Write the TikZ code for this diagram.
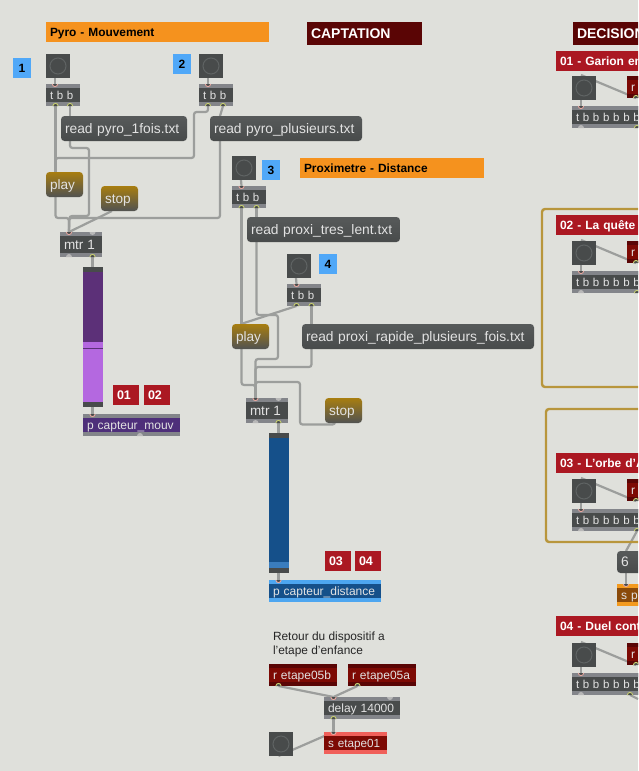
\documentclass[tikz,border=0pt]{standalone}
\usepackage{fontspec}
\setmainfont{Liberation Sans}
\definecolor{pagebg}{HTML}{DFE0DB}
\definecolor{objdark}{HTML}{484B4B}
\definecolor{stripgray}{HTML}{83858A}
\definecolor{wiregray}{HTML}{9C9E9C}
\definecolor{labelred}{HTML}{AB1822}
\definecolor{darkred}{HTML}{5A0505}
\definecolor{recvred}{HTML}{7D0A04}
\definecolor{sendstrip}{HTML}{F0605A}
\definecolor{orangelab}{HTML}{F5921E}
\definecolor{bluelab}{HTML}{50A8F8}
\definecolor{purpledark}{HTML}{5C3078}
\definecolor{purplelight}{HTML}{B468E0}
\definecolor{purplepatch}{HTML}{4E2F7A}
\definecolor{bluedark}{HTML}{15508A}
\definecolor{bluelight}{HTML}{3A7DBE}
\definecolor{bluestrip}{HTML}{4DA6F0}
\definecolor{gold}{HTML}{B8963C}
\definecolor{sorange}{HTML}{8A4A0A}
\definecolor{sorangestrip}{HTML}{F39A1E}
\definecolor{objtext}{HTML}{E2E2E2}
\definecolor{msgtop}{HTML}{575A5A}
\definecolor{ctltop}{HTML}{A87E10}
\definecolor{ctlbot}{HTML}{505252}
\definecolor{inpin}{HTML}{E8A8A0}
\definecolor{outpin}{HTML}{C8D070}
\definecolor{ringgray}{HTML}{5F6363}
\pgfdeclarelayer{wirelayer}
\pgfdeclarelayer{backlayer}
\pgfsetlayers{backlayer,wirelayer,main}
\newcommand\FS[2]{\fontsize{#1}{#2}\selectfont}
\newcommand\WS[1]{{\spaceskip=3.7pt\relax #1}}
\tikzset{
  base/.style={anchor=north west,inner xsep=4pt,inner ysep=0pt,outer sep=0pt,align=left,text height=10.5pt,text depth=1.5pt},
  strips/.style={path picture={
    \fill[#1] (path picture bounding box.north west) rectangle ([yshift=-4pt]path picture bounding box.north east);
    \fill[#1] (path picture bounding box.south west) rectangle ([yshift=4pt]path picture bounding box.south east);}},
  objbox/.style={base,fill=objdark,text=objtext,strips=stripgray,font=\FS{12}{14}},
  tbox/.style={objbox,font=\FS{11.5}{14}},
  patchm/.style={base,fill=purplepatch,text=objtext,strips=stripgray,font=\FS{12}{14}},
  patchd/.style={base,fill=bluedark,text=objtext,strips=bluestrip,font=\FS{12}{14}},
  recv/.style={base,fill=recvred,text=objtext,strips=darkred,font=\FS{12}{14}},
  sendb/.style={base,fill=recvred,text=objtext,strips=sendstrip,font=\FS{11.7}{14}},
  sendo/.style={base,fill=sorange,text=objtext,strips=sorangestrip,font=\FS{12}{14}},
  msg/.style={base,rounded corners=3.5pt,top color=msgtop,bottom color=objdark,text=objtext,font=\FS{13.8}{15}},
  ctl/.style={base,rounded corners=3.5pt,top color=ctltop,bottom color=ctlbot,text=objtext,font=\FS{13.6}{15}},
  orangeh/.style={base,fill=orangelab,text=black,font=\bfseries\FS{11.9}{13}},
  darkh/.style={base,fill=darkred,text=white,font=\bfseries\FS{14}{15}},
  redh/.style={base,fill=labelred,text=white,font=\bfseries\FS{12}{14}},
  redn/.style={base,fill=labelred,text=white,font=\bfseries\FS{12.5}{14}},
  bluen/.style={anchor=north west,fill=bluelab,text=black,inner sep=0pt,outer sep=0pt,align=center,text height=10.5pt,text depth=1.5pt,font=\bfseries\FS{12}{14}},
  btn/.style={anchor=north west,fill=objdark,inner sep=0pt,outer sep=0pt,minimum size=24pt,path picture={\draw[line width=1pt,color=ringgray] (path picture bounding box.center) circle (8pt);}},
  goldbox/.style={anchor=north west,draw=gold,line width=2.4pt,rounded corners=3pt,inner sep=0pt,outer sep=0pt},
  wire/.style={draw=wiregray,line width=2.2pt,rounded corners=2.5pt},
  plain/.style={anchor=north west,inner sep=0pt,outer sep=0pt,align=left,text=black!85,font=\FS{11.9}{14.2}},
  sliderp/.style={anchor=north west,inner sep=0pt,outer sep=0pt},
}
% style, name, x, y, w, h, text
\newcommand\Obj[7]{\node[#1,minimum height=#6pt,text width={(#5-8)*1pt}] (#2) at (#3,#4) {#7};}
\newcommand\Num[7]{\node[#1,minimum height=#6pt,text width=#5pt] (#2) at (#3,#4) {#7};}
\newcommand\Btn[3]{\node[btn] (#1) at (#2,#3) {};}
\newcommand\Inp[2]{\draw[line width=0.9pt,draw=inpin,fill=objdark] ([xshift=#2pt]#1.north west) ++(-2.6pt,0pt) arc[start angle=180,end angle=360,radius=2.6pt];}
\newcommand\Outp[2]{\draw[line width=0.9pt,draw=outpin,fill=objdark] ([xshift=#2pt]#1.south west) ++(-2.6pt,0pt) arc[start angle=180,end angle=0,radius=2.6pt];}
\newcommand\GIn[2]{\fill[black!28] ([xshift=#2pt]#1.north west) ++(-3pt,0pt) arc[start angle=180,end angle=360,radius=3pt];}
\newcommand\GOut[2]{\fill[black!28] ([xshift=#2pt]#1.south west) ++(-3pt,0pt) arc[start angle=180,end angle=0,radius=3pt];}
\begin{document}
\begin{tikzpicture}[x=1pt,y=-1pt]
\useasboundingbox (0,0) rectangle (638,771);
\clip (0,0) rectangle (638,771);
\begin{pgfonlayer}{backlayer}
\fill[pagebg] (0,0) rectangle (638,771);
\end{pgfonlayer}
% gold frames
\node[goldbox,minimum width=200pt,minimum height=178pt] (gone) at (542,209) {};
\node[goldbox,minimum width=200pt,minimum height=133pt] (gtwo) at (546,409) {};
% headers
\Obj{orangeh}{hpyro}{46}{22}{223}{20}{Pyro - Mouvement}
\Obj{darkh}{hcap}{307}{22}{115}{23}{CAPTATION}
\Obj{darkh}{hdec}{573}{22}{100}{23}{DECISION}
\Obj{orangeh}{hprox}{300}{158}{184}{20}{Proximetre - Distance}
% numbered labels
\Num{bluen}{n1}{13}{58}{18}{20}{1}
\Num{bluen}{n2}{173}{54}{18}{20}{2}
\Num{bluen}{n3}{262}{160}{18}{20}{3}
\Num{bluen}{n4}{319}{254}{18}{20}{4}
% pyro column
\Btn{b1}{46}{54}
\Btn{b2}{199}{54}
\Obj{tbox}{t1}{46}{84}{34}{22}{\WS{t b b}}
\Obj{tbox}{t2}{199}{84}{34}{22}{\WS{t b b}}
\Obj{msg}{m1}{61}{116}{126}{25}{read pyro\_1fois.txt}
\Obj{msg}{m2}{210}{116}{152}{25}{read pyro\_plusieurs.txt}
\Obj{ctl}{play1}{46}{172}{37}{25}{play}
\Obj{ctl}{stop1}{101}{186}{37}{25}{stop}
\Obj{objbox}{mtr1}{60}{232}{42}{25}{\FS{13.5}{15}mtr 1}
% slider 1
\node[sliderp,fill=objdark,minimum width=20pt,minimum height=140pt] (s1) at (83,267) {};
\fill[purpledark] (83,272) rectangle (103,342);
\fill[purplelight] (83,342) rectangle (103,402);
\fill[purpledark] (83,348) rectangle (103,349);
\Obj{patchm}{pm}{83}{414}{97}{22}{p capteur\_mouv}
\Obj{redn}{r01}{113}{385}{26}{20}{01}
\Obj{redn}{r02}{144}{385}{26}{20}{02}
% proximity column
\Btn{b3}{232}{156}
\Obj{tbox}{t3}{232}{186}{34}{22}{\WS{t b b}}
\Obj{msg}{m3}{247}{217}{153}{25}{read proxi\_tres\_lent.txt}
\Btn{b4}{287}{254}
\Obj{tbox}{t4}{287}{284}{34}{22}{\WS{t b b}}
\Obj{ctl}{play2}{232}{324}{37}{25}{play}
\Obj{msg}{m4}{302}{324}{232}{25}{read proxi\_rapide\_plusieurs\_fois.txt}
\Obj{objbox}{mtr2}{246}{398}{42}{25}{\FS{13.5}{15}mtr 1}
\Obj{ctl}{stop2}{325}{398}{37}{25}{stop}
\node[sliderp,fill=objdark,minimum width=20pt,minimum height=140pt] (s2) at (269,433) {};
\fill[bluedark] (269,438) rectangle (289,562);
\fill[bluelight] (269,562) rectangle (289,568);
\Obj{redn}{r03}{325}{551}{26}{20}{03}
\Obj{redn}{r04}{355}{551}{26}{20}{04}
\Obj{patchd}{pd}{269}{580}{112}{22}{p capteur\_distance}
% return group
\node[plain] (ret) at (273,632) {Retour du dispositif a\\l'etape d'enfance};
\Obj{recv}{re5b}{269}{664}{68}{22}{r etape05b}
\Obj{recv}{re5a}{348}{664}{68}{22}{r etape05a}
\Obj{objbox}{del}{324}{697}{76}{22}{delay 14000}
\Obj{sendb}{set1}{324}{732}{63}{22}{s etape01}
\Btn{b5}{269}{732}
% decision column
\Obj{redh}{d1}{556}{51}{120}{20}{01 - Garion en}
\Btn{db1}{572}{76}
\Obj{recv}{dr1}{627}{76}{30}{22}{r}
\Obj{tbox}{dt1}{572}{106}{90}{22}{\WS{t b b b b b b}}
\Obj{redh}{d2}{556}{215}{120}{20}{02 - La quête}
\Btn{db2}{572}{241}
\Obj{recv}{dr2}{627}{241}{30}{22}{r}
\Obj{tbox}{dt2}{572}{271}{90}{22}{\WS{t b b b b b b}}
\Obj{redh}{d3}{556}{453}{120}{20}{03 - L'orbe d'A}
\Btn{db3}{572}{479}
\Obj{recv}{dr3}{627}{479}{30}{22}{r}
\Obj{tbox}{dt3}{572}{509}{90}{22}{\WS{t b b b b b b}}
\Obj{msg}{d6}{617}{551}{40}{22}{6}
\Obj{sendo}{dsp}{617}{584}{40}{22}{s p}
\Obj{redh}{d4}{556}{616}{120}{20}{04 - Duel cont}
\Btn{db4}{572}{643}
\Obj{recv}{dr4}{627}{643}{30}{22}{r}
\Obj{tbox}{dt4}{572}{673}{90}{22}{\WS{t b b b b b b}}
\coordinate (exit4) at (638,699);
% connectors
\begin{pgfonlayer}{wirelayer}
\draw[wire] ([xshift=9pt]b1.south west) -- ([xshift=9pt]t1.north west);
\draw[wire] ([xshift=9pt]b2.south west) -- ([xshift=9pt]t2.north west);
\draw[wire] ([xshift=24pt]t1.south west) -- ([xshift=9pt]m1.north west);
\draw[wire] ([xshift=24pt]t2.south west) -- ([xshift=10pt]m2.north west);
\draw[wire] ([xshift=9.5pt]t1.south west) -- ([xshift=9.5pt]play1.north west);
\draw[wire] ([xshift=9pt]t2.south west) -- (208,112) -- (194,112) -- (194,158) -- (55.5,158) -- ([xshift=9.5pt]play1.north west);
\draw[wire] ([xshift=9.5pt]play1.south west) -- (55.5,218) -- (69,218) -- ([xshift=9pt]mtr1.north west);
\draw[wire] ([xshift=9pt]m1.south west) -- (70,148) -- (89,148) -- (89,216) -- (69.5,216) -- ([xshift=9pt]mtr1.north west);
\draw[wire] ([xshift=11pt]stop1.south west) -- ([xshift=9pt]mtr1.north west);
\draw[wire] ([xshift=10pt]m2.south west) -- (220,218) -- (69,218) -- ([xshift=9pt]mtr1.north west);
\draw[wire] ([xshift=32.5pt]mtr1.south west) -- ([xshift=9.5pt]s1.north west);
\draw[wire] ([xshift=9.5pt]s1.south west) -- ([xshift=9.5pt]pm.north west);
\draw[wire] ([xshift=9pt]b3.south west) -- ([xshift=9.5pt]t3.north west);
\draw[wire] ([xshift=9pt]b4.south west) -- ([xshift=9.5pt]t4.north west);
\draw[wire] ([xshift=24.5pt]t3.south west) -- ([xshift=9.5pt]m3.north west);
\draw[wire] ([xshift=9.5pt]t3.south west) -- ([xshift=9.5pt]play2.north west);
\draw[wire] ([xshift=9.5pt]t4.south west) -- ([xshift=9pt]play2.north west);
\draw[wire] ([xshift=24.5pt]t4.south west) -- ([xshift=9.5pt]m4.north west);
\draw[wire] ([xshift=9.5pt]m3.south west) -- (256.5,315) -- (278,315) -- (278,359) -- (255.5,359) -- ([xshift=9.5pt]mtr2.north west);
\draw[wire] ([xshift=9.5pt]m4.south west) -- (311.5,367) -- (255.5,367) -- ([xshift=9.5pt]mtr2.north west);
\draw[wire] ([xshift=9.5pt]play2.south west) -- (241.5,385) -- (255.5,385) -- ([xshift=9.5pt]mtr2.north west);
\draw[wire] ([xshift=10pt]stop2.south west) -- (335,424.5) -- (300,424.5) -- (300,382) -- (255.5,382) -- ([xshift=9.5pt]mtr2.north west);
\draw[wire] ([xshift=32.5pt]mtr2.south west) -- ([xshift=9.5pt]s2.north west);
\draw[wire] ([xshift=9.5pt]s2.south west) -- ([xshift=9.5pt]pd.north west);
\draw[wire] ([xshift=9.5pt]re5b.south west) -- ([xshift=9.5pt]del.north west);
\draw[wire] ([xshift=9.5pt]re5a.south west) -- ([xshift=9.5pt]del.north west);
\draw[wire] ([xshift=9.5pt]del.south west) -- ([xshift=9.5pt]set1.north west);
\draw[wire] ([xshift=9.5pt]b5.south west) -- ([xshift=9.5pt]set1.north west);
\draw[wire] ([xshift=9pt,yshift=1pt]db1.north west) -- ([xshift=9pt]dr1.south west);
\draw[wire] ([xshift=9pt]db1.south west) -- ([xshift=9pt]dt1.north west);
\draw[wire] ([xshift=9pt,yshift=1pt]db2.north west) -- ([xshift=9pt]dr2.south west);
\draw[wire] ([xshift=9pt]db2.south west) -- ([xshift=9pt]dt2.north west);
\draw[wire] ([xshift=9pt,yshift=1pt]db3.north west) -- ([xshift=9pt]dr3.south west);
\draw[wire] ([xshift=9pt]db3.south west) -- ([xshift=9pt]dt3.north west);
\draw[wire] ([xshift=65pt]dt3.south west) -- ([xshift=9pt]d6.north west);
\draw[wire] ([xshift=9pt]d6.south west) -- ([xshift=9pt]dsp.north west);
\draw[wire] ([xshift=9pt,yshift=1pt]db4.north west) -- ([xshift=9pt]dr4.south west);
\draw[wire] ([xshift=9pt]db4.south west) -- ([xshift=9pt]dt4.north west);
\draw[wire] ([xshift=58pt]dt4.south west) -- (exit4);
\end{pgfonlayer}
% ports
\Inp{t1}{9}\Outp{t1}{9.5}\Outp{t1}{24}
\Inp{t2}{9}\Outp{t2}{9}\Outp{t2}{24}
\Inp{mtr1}{9}\GIn{mtr1}{32.5}\GOut{mtr1}{9}\Outp{mtr1}{32.5}
\Inp{pm}{9.5}
\GOut{pm}{57}
\Inp{t3}{9.5}\Outp{t3}{9.5}\Outp{t3}{24.5}
\Inp{t4}{9.5}\Outp{t4}{9.5}\Outp{t4}{24.5}
\Inp{mtr2}{9.5}\GIn{mtr2}{32.5}\GOut{mtr2}{9.5}\Outp{mtr2}{32.5}
\Inp{pd}{9.5}
\Outp{re5b}{9.5}\Outp{re5a}{9.5}
\Inp{del}{9.5}\GIn{del}{66}\Outp{del}{9.5}
\Inp{set1}{9.5}
\Outp{dr1}{9}\Inp{dt1}{9}\GOut{dt1}{9}\Outp{dt1}{65}
\Outp{dr2}{9}\Inp{dt2}{9}\GOut{dt2}{9}\Outp{dt2}{65}
\Outp{dr3}{9}\Inp{dt3}{9}\GOut{dt3}{9}\Outp{dt3}{65}
\Inp{dsp}{9}
\Outp{dr4}{9}\Inp{dt4}{9}\GOut{dt4}{9}\Outp{dt4}{58}
\end{tikzpicture}
\end{document}
